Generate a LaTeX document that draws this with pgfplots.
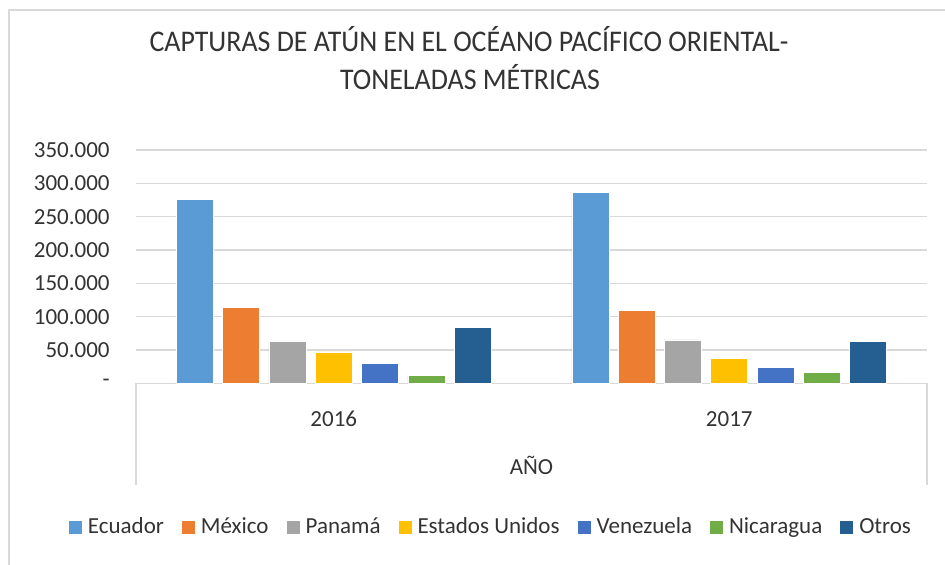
\documentclass[border=0pt]{standalone}
\usepackage{fontspec}
\setmainfont{Carlito}
\usepackage{pgfplots}
\pgfplotsset{compat=1.18}
\definecolor{cEcu}{HTML}{5B9BD5}
\definecolor{cMex}{HTML}{ED7D31}
\definecolor{cPan}{HTML}{A5A5A5}
\definecolor{cUSA}{HTML}{FFC000}
\definecolor{cVen}{HTML}{4472C4}
\definecolor{cNic}{HTML}{70AD47}
\definecolor{cOtr}{HTML}{255E91}
\definecolor{gridc}{HTML}{D9D9D9}
\definecolor{txt}{HTML}{333333}
\pgfplotsset{sq/.style={draw=white, line width=0.3pt,
  legend image code/.code={\path[##1, draw=none] (0pt,-3.25pt) rectangle (6.5pt,3.25pt);}}}
\begin{document}
\begin{tikzpicture}
\path[use as bounding box] (0,0) rectangle (472.5pt,282.5pt);
\draw[gridc, line width=1pt] (4.5pt,0) -- (4.5pt,277.5pt) -- (472.5pt,277.5pt);
\node[anchor=base, inner sep=0pt, font=\fontsize{15}{18}\selectfont, text=txt] at (234.5pt,256.5pt) {\scalebox{0.93}[1]{CAPTURAS DE ATÚN EN EL OCÉANO PACÍFICO ORIENTAL-}};
\node[anchor=base, inner sep=0pt, font=\fontsize{15}{18}\selectfont, text=txt] at (235pt,237.5pt) {\scalebox{0.93}[1]{TONELADAS MÉTRICAS}};
\begin{axis}[
  at={(68pt,90.85pt)}, anchor=south west,
  scale only axis, width=395.5pt, height=116.65pt,
  xmin=-0.5, xmax=1.5, ymin=0, ymax=350000,
  ybar=4.65pt, bar width=18.5pt,
  xtick={0,1}, xticklabels={2016,2017},
  ytick={0,50000,100000,150000,200000,250000,300000,350000},
  yticklabels={-\hspace{5pt},50.000,100.000,150.000,200.000,250.000,300.000,350.000},
  scaled y ticks=false,
  major tick length=0pt,
  axis line style={draw=none},
  ymajorgrids, grid style={gridc, line width=0.75pt},
  tick label style={font=\fontsize{11.5}{14}\selectfont, text=txt},
  yticklabel style={anchor=east, inner sep=0pt, xshift=-13pt},
  xticklabel style={anchor=base, inner sep=0pt, yshift=-21.5pt},
  xlabel={AÑO},
  xlabel style={at={(axis description cs:0.5,0)}, anchor=base, inner sep=0pt, yshift=-45.75pt, font=\fontsize{11.5}{14}\selectfont, text=txt},
  legend style={at={(axis description cs:0.4475,-0.618)}, anchor=center, draw=none, fill=none,
    font=\fontsize{11.5}{14}\selectfont, text=txt, legend columns=-1,
    nodes={inner xsep=0pt, inner ysep=1pt},
    /tikz/every odd column/.append style={column sep=3pt},
    /tikz/every even column/.append style={column sep=9pt}},
  clip=false,
]
\addplot[sq, fill=cEcu] coordinates {(0,276000) (1,286000)};
\addplot[sq, fill=cMex] coordinates {(0,114000) (1,109500)};
\addplot[sq, fill=cPan] coordinates {(0,63000) (1,65000)};
\addplot[sq, fill=cUSA] coordinates {(0,47000) (1,37500)};
\addplot[sq, fill=cVen] coordinates {(0,30000) (1,23400)};
\addplot[sq, fill=cNic] coordinates {(0,12000) (1,16500)};
\addplot[sq, fill=cOtr] coordinates {(0,84000) (1,63000)};
\legend{Ecuador,México,Panamá,Estados Unidos,Venezuela,Nicaragua,Otros}
\draw[gridc, line width=0.75pt] (axis description cs:0,0) -- ([yshift=-51pt]axis description cs:0,0);
\draw[gridc, line width=0.75pt] (axis description cs:1,0) -- ([yshift=-51pt]axis description cs:1,0);
\end{axis}
\end{tikzpicture}
\end{document}
